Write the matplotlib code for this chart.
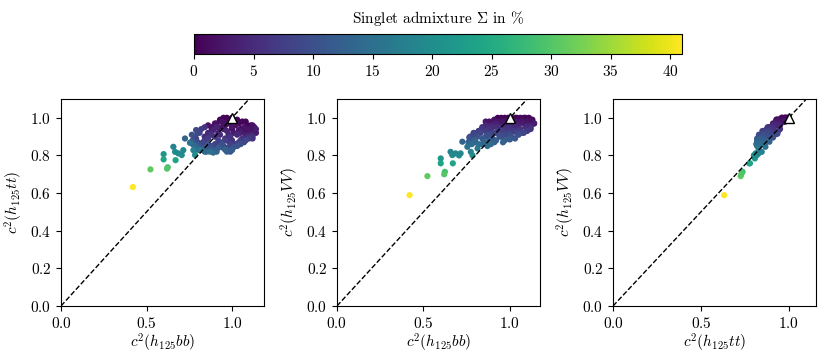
import matplotlib
matplotlib.use("Agg")
import matplotlib.pyplot as plt
import numpy as np

plt.rcParams["font.family"] = "serif"
plt.rcParams["font.serif"] = ["cmr10"]
plt.rcParams["mathtext.fontset"] = "cm"
plt.rcParams["axes.formatter.use_mathtext"] = True
plt.rcParams["font.size"] = 11

# benchmark points: c^2(h125 bb), c^2(h125 tt), c^2(h125 VV), singlet admixture in %
c2_bb = [
    0.93, 0.97, 1.00, 1.03, 1.06, 1.09, 1.12, 0.95, 1.00, 1.05, 1.10,
    0.95, 0.99, 1.04, 1.08, 1.11, 0.91, 0.97, 1.02, 1.13, 1.07,
    0.86, 0.90, 0.94, 0.98, 1.02, 1.07, 1.13, 0.88, 0.95, 1.01, 1.08, 1.14,
    0.88, 0.92, 0.96, 1.00, 1.04, 1.10, 1.12,
    0.84, 0.92, 0.98, 1.05, 1.11, 1.14, 0.89,
    0.82, 0.86, 0.91, 0.97, 1.03, 1.09, 1.12, 0.84, 0.90, 0.96, 1.00,
    0.81, 0.87, 0.93, 1.06, 1.12, 0.98,
    0.80, 0.84, 0.88, 0.93, 0.99, 1.05, 1.10, 0.82, 0.95, 1.02,
    0.78, 0.86, 0.90, 0.99, 1.07, 0.96,
    0.79, 0.83, 0.87, 0.92, 0.97, 1.04, 1.08, 1.00,
    0.80, 0.88, 0.95, 1.01, 1.05,
    0.77, 0.81, 0.86, 0.90, 0.94, 0.99, 1.03,
    0.79, 0.84, 0.88, 0.97, 1.00,
    0.77, 0.80, 0.85, 0.91, 0.96, 0.92,
    0.80, 0.84, 0.89, 0.76,
    0.78, 0.82, 0.87, 0.765, 0.79,
    0.60, 0.60, 0.657, 0.667, 0.686, 0.67, 0.706, 0.715, 0.725, 0.754, 0.774, 0.784, 0.813,
    0.523, 0.624, 0.62, 0.42,
]
c2_tt = [
    0.99, 1.00, 1.00, 0.99, 0.98, 0.96, 0.94, 0.96, 0.95, 0.94, 0.93,
    1.00, 0.98, 0.97, 0.98, 0.96, 0.97, 0.975, 0.98, 0.95, 0.93,
    0.96, 0.97, 0.98, 0.97, 0.96, 0.95, 0.93, 0.93, 0.94, 0.92, 0.91, 0.92,
    0.95, 0.95, 0.96, 0.94, 0.935, 0.94, 0.96,
    0.95, 0.92, 0.91, 0.92, 0.91, 0.94, 0.935,
    0.94, 0.92, 0.95, 0.93, 0.91, 0.90, 0.89, 0.90, 0.90, 0.89, 0.88,
    0.92, 0.91, 0.91, 0.89, 0.90, 0.875,
    0.92, 0.88, 0.91, 0.87, 0.90, 0.88, 0.89, 0.86, 0.85, 0.86,
    0.90, 0.89, 0.86, 0.86, 0.87, 0.88,
    0.89, 0.87, 0.84, 0.88, 0.84, 0.87, 0.88, 0.83,
    0.87, 0.85, 0.84, 0.845, 0.86,
    0.88, 0.85, 0.86, 0.83, 0.86, 0.82, 0.85,
    0.86, 0.84, 0.83, 0.82, 0.83,
    0.86, 0.84, 0.82, 0.82, 0.83, 0.84,
    0.83, 0.82, 0.815, 0.87,
    0.85, 0.83, 0.82, 0.91, 0.935,
    0.807, 0.779, 0.846, 0.819, 0.811, 0.775, 0.802, 0.828, 0.890, 0.867, 0.828, 0.802, 0.828,
    0.726, 0.737, 0.730, 0.632,
]
c2_vv = [
    1.00, 1.00, 1.00, 1.00, 1.00, 1.00, 0.99, 0.99, 0.99, 0.99, 0.99,
    1.00, 1.00, 1.00, 1.00, 1.00, 0.99, 0.99, 0.99, 0.99, 0.99,
    0.98, 0.98, 0.98, 0.98, 0.98, 0.98, 0.97, 0.97, 0.97, 0.97, 0.97, 0.97,
    0.98, 0.98, 0.98, 0.98, 0.98, 0.98, 0.98,
    0.94, 0.97, 0.96, 0.96, 0.96, 0.97, 0.96,
    0.93, 0.96, 0.96, 0.96, 0.95, 0.95, 0.95, 0.95, 0.95, 0.95, 0.95,
    0.92, 0.95, 0.95, 0.94, 0.94, 0.94,
    0.91, 0.94, 0.94, 0.93, 0.94, 0.93, 0.93, 0.93, 0.93, 0.93,
    0.90, 0.93, 0.92, 0.92, 0.92, 0.93,
    0.92, 0.92, 0.91, 0.92, 0.91, 0.92, 0.92, 0.91,
    0.91, 0.91, 0.90, 0.90, 0.91,
    0.90, 0.90, 0.90, 0.89, 0.90, 0.89, 0.89,
    0.89, 0.89, 0.88, 0.88, 0.885,
    0.88, 0.88, 0.87, 0.87, 0.87, 0.88,
    0.87, 0.86, 0.86, 0.87,
    0.86, 0.86, 0.85, 0.895, 0.915,
    0.784, 0.758, 0.819, 0.802, 0.811, 0.758, 0.800, 0.811, 0.873, 0.846, 0.819, 0.800, 0.837,
    0.690, 0.713, 0.700, 0.589,
]
sigma = [
    0.3, 0.2, 0.0, 0.4, 0.5, 0.6, 0.8, 0.9, 1.0, 1.1, 1.2,
    0.4, 0.5, 0.6, 0.5, 0.7, 1.2, 1.0, 0.9, 1.0, 1.3,
    2.2, 2.0, 1.8, 2.0, 2.1, 2.2, 2.6, 2.8, 3.0, 3.2, 3.1, 3.0,
    2.0, 2.2, 2.0, 2.3, 2.4, 2.2, 1.9,
    6.0, 3.5, 3.8, 3.6, 3.9, 3.2, 4.0,
    7.0, 4.4, 4.0, 4.3, 4.8, 5.0, 5.2, 5.0, 5.2, 5.4, 5.5,
    8.0, 5.0, 5.3, 5.8, 6.0, 6.2,
    9.0, 6.4, 6.0, 6.8, 6.3, 6.8, 7.0, 7.2, 7.4, 7.2,
    10.0, 7.2, 7.8, 8.0, 8.2, 7.4,
    8.2, 8.4, 8.8, 8.0, 9.0, 8.4, 8.5, 9.2,
    9.0, 9.4, 9.8, 10.0, 9.6,
    10.0, 10.3, 10.0, 10.8, 10.2, 11.0, 10.7,
    11.0, 11.3, 11.8, 12.0, 11.6,
    12.0, 12.4, 12.8, 13.0, 12.6, 12.2,
    13.2, 13.8, 14.0, 13.0,
    14.0, 14.3, 14.8, 10.5, 8.5,
    21.5, 24.0, 18.0, 19.8, 19.0, 24.0, 20.0, 19.0, 12.7, 15.4, 18.0, 20.0, 16.3,
    31.0, 28.7, 30.0, 41.0,
]

panels = [
    (c2_bb, c2_tt, r"$c^2(h_{125}bb)$", r"$c^2(h_{125}tt)$", 1.187, 0.0734),
    (c2_bb, c2_vv, r"$c^2(h_{125}bb)$", r"$c^2(h_{125}VV)$", 1.174, 0.4055),
    (c2_tt, c2_vv, r"$c^2(h_{125}tt)$", r"$c^2(h_{125}VV)$", 1.155, 0.7377),
]

fig = plt.figure(figsize=(8.31, 3.61), dpi=100)
vmax = max(sigma)

for x, y, xlabel, ylabel, xmax, left in panels:
    ax = fig.add_axes([left, 0.1524, 0.2443, 0.5734])
    sc = ax.scatter(x, y, c=sigma, cmap="viridis", vmin=0, vmax=vmax, s=20, linewidths=0, zorder=2)
    ax.plot([0, 1.3], [0, 1.3], "k--", lw=1, zorder=3)
    ax.plot([1.0], [1.0], marker="^", color="white", markeredgecolor="black", markersize=7, zorder=4)
    ax.set_xlim(0, xmax)
    ax.set_ylim(0, 1.1)
    ax.set_xticks([0.0, 0.5, 1.0])
    ax.set_yticks([0.0, 0.2, 0.4, 0.6, 0.8, 1.0])
    ax.set_xlabel(xlabel, labelpad=1)
    ax.set_ylabel(ylabel)

cax = fig.add_axes([0.2335, 0.8504, 0.5872, 0.0554])
cbar = fig.colorbar(sc, cax=cax, orientation="horizontal")
cbar.set_ticks([0, 5, 10, 15, 20, 25, 30, 35, 40])
cax.set_title(r"Singlet admixture $\Sigma$ in %", fontsize=11, pad=8)

plt.savefig("out.png", dpi=100)
